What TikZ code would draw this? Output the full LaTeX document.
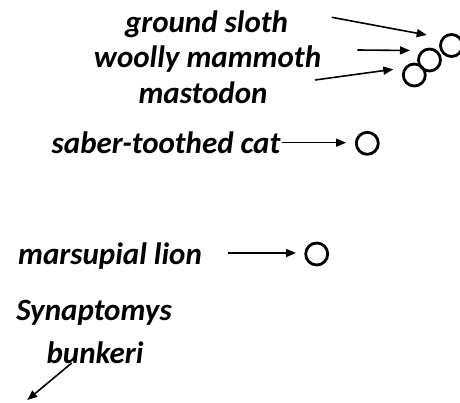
\documentclass[tikz,border=0pt]{standalone}
\usepackage{fontspec}
\setmainfont{Carlito}
\usetikzlibrary{arrows.meta}
\begin{document}
\begin{tikzpicture}[x=1pt,y=-1pt,
  lbl/.style={font=\fontsize{31}{33}\selectfont\bfseries\itshape, inner sep=0pt, anchor=base},
  arr/.style={line width=1.6pt, -{Triangle[length=10pt,width=8pt]}},
  ring/.style={draw, circle, line width=2.8pt, minimum size=22pt, inner sep=0pt}]
\useasboundingbox (0,0) rectangle (460,403);
\node[lbl] (gs) at (206.5,33) {ground sloth};
\node[lbl] (wm) at (207.5,68) {woolly mammoth};
\node[lbl] (ms) at (203,104) {mastodon};
\node[lbl] (sc) at (166,154) {saber-toothed cat};
\node[lbl] (ml) at (110,265) {marsupial lion};
\node[lbl] (sy) at (94,320) {Synaptomys};
\node[lbl] (bk) at (95,363) {bunkeri};
\node[ring] (c1) at (414.3,75) {};
\node[ring] (c2) at (429.5,60) {};
\node[ring] (c3) at (451.5,45.5) {};
\node[ring] (c4) at (367.3,143.3) {};
\node[ring] (c5) at (316.7,254) {};
\coordinate (a1s) at (331.7,17.3);
\coordinate (a1e) at (426.7,35);
\coordinate (a2s) at (357.3,50);
\coordinate (a2e) at (410,50.5);
\coordinate (a3s) at (315,80);
\coordinate (a3e) at (393.3,69.3);
\coordinate (a4s) at (282,142.7);
\coordinate (a4e) at (346,142.7);
\coordinate (a5s) at (228,253);
\coordinate (a5e) at (296,253);
\coordinate (a6s) at (71.7,363);
\coordinate (a6e) at (27.3,400);
\draw[arr] (a1s) -- (a1e);
\draw[arr] (a2s) -- (a2e);
\draw[arr] (a3s) -- (a3e);
\draw[arr] (a4s) -- (a4e);
\draw[arr] (a5s) -- (a5e);
\draw[arr] (a6s) -- (a6e);
\end{tikzpicture}
\end{document}
